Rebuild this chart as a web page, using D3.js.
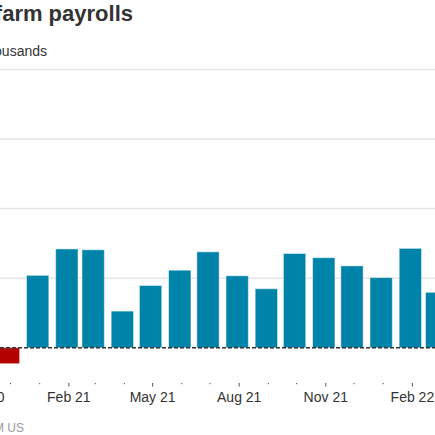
<!DOCTYPE html>
<html>
<head>
<meta charset="utf-8">
<script src="https://cdn.jsdelivr.net/npm/d3@7"></script>
<style>
  html, body { margin: 0; padding: 0; background: #fff; }
  svg { display: block; overflow: hidden; font-family: "Liberation Sans", Arial, sans-serif; }
</style>
</head>
<body>
<svg id="chart" width="435" height="435"></svg>
<script>
// ---- data ----
const months = ["2020-12", "2021-01", "2021-02", "2021-03", "2021-04", "2021-05", "2021-06", "2021-07",
                "2021-08", "2021-09", "2021-10", "2021-11", "2021-12", "2022-01", "2022-02", "2022-03"];
const payrolls = [-115, 520, 710, 704, 263, 447, 557, 689, 517, 424, 677, 647, 588, 504, 714, 398];
const tickMonths = ["2020-11", "2020-12", "2021-01", "2021-02", "2021-03", "2021-04", "2021-05", "2021-06",
                    "2021-07", "2021-08", "2021-09", "2021-10", "2021-11", "2021-12", "2022-01", "2022-02", "2022-03"];
const majorTickMonths = ["2020-11", "2021-02", "2021-05", "2021-08", "2021-11", "2022-02"];
const tickLabels = ["Nov 20", "Feb 21", "May 21", "Aug 21", "Nov 21", "Feb 22"];
const yTicks = [0, 500, 1000, 1500, 2000];
const title = "Nonfarm payrolls";
const subtitle = "Thousands";
const source = "Source: BLS \u00b7 M US";

// ---- setup ----
const parseMonth = d3.utcParse("%Y-%m");
const svg = d3.select("#chart");

const x = d3.scaleUtc()
  .domain([parseMonth("2021-01"), parseMonth("2022-02")])
  .range([26, 398.7]);
const y = d3.scaleLinear().domain([0, 2000]).range([347.7, 69.5]);
const barW = 23.3;

// gridlines
svg.append("g")
  .selectAll("line")
  .data(yTicks.filter(d => d !== 0))
  .join("line")
  .attr("x1", 0).attr("x2", 435)
  .attr("y1", d => y(d)).attr("y2", d => y(d))
  .attr("stroke", "#e6e6e6")
  .attr("stroke-width", 1.5);

// bars
const data = months.map((m, i) => ({ date: parseMonth(m), value: payrolls[i] }));
svg.append("g")
  .selectAll("rect")
  .data(data)
  .join("rect")
  .attr("x", d => x(d.date) + 0.5)
  .attr("width", barW - 1)
  .attr("y", d => Math.min(y(d.value), y(0)))
  .attr("height", d => Math.abs(y(d.value) - y(0)))
  .attr("fill", d => d.value < 0 ? "#b30000" : "#0083a8")
  .attr("stroke", "rgba(255,255,255,0.45)")
  .attr("stroke-width", 1);

// zero line
svg.append("line")
  .attr("x1", 0).attr("x2", 435)
  .attr("y1", y(0)).attr("y2", y(0))
  .attr("stroke", "#333")
  .attr("stroke-width", 1.5)
  .attr("stroke-dasharray", "4,2");

// x axis
const tickDates = tickMonths.map(m => d3.utcDay.offset(parseMonth(m), 14));
const majorSet = new Set(majorTickMonths);
const labelMap = new Map(majorTickMonths.map((m, i) => [m, tickLabels[i]]));
const fmtKey = d3.utcFormat("%Y-%m");

const xAxis = d3.axisBottom(x)
  .tickValues(tickDates)
  .tickSize(3.5)
  .tickFormat(d => labelMap.get(fmtKey(d)) || "");

const gx = svg.append("g")
  .attr("transform", "translate(0,383)")
  .call(xAxis);
gx.select(".domain").remove();
gx.selectAll(".tick line")
  .attr("stroke", "#555")
  .attr("y2", d => majorSet.has(fmtKey(d)) ? 3.5 : 1.2);
gx.selectAll(".tick text")
  .attr("y", 19)
  .attr("dy", null)
  .attr("fill", "#333")
  .style("font-size", "14px")
  .style("font-family", "'Liberation Sans', Arial, sans-serif");

// titles
svg.append("text")
  .attr("x", 133).attr("y", 20.5)
  .attr("text-anchor", "end")
  .attr("fill", "#333")
  .style("font-size", "22px")
  .style("font-weight", "bold")
  .text(title);

svg.append("text")
  .attr("x", 47).attr("y", 56)
  .attr("text-anchor", "end")
  .attr("fill", "#333")
  .style("font-size", "14px")
  .text(subtitle);

svg.append("text")
  .attr("x", 24).attr("y", 431.5)
  .attr("text-anchor", "end")
  .attr("fill", "#999")
  .style("font-size", "12px")
  .text(source);
</script>
</body>
</html>
